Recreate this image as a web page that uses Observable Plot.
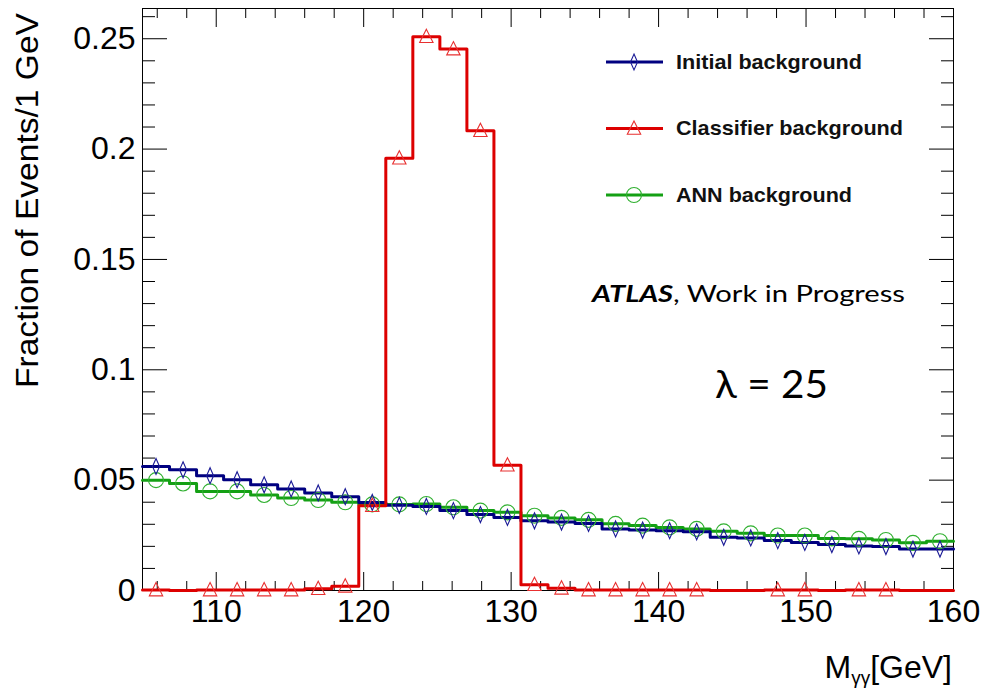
<!DOCTYPE html>
<html>
<head>
<meta charset="utf-8">
<script src="https://cdn.jsdelivr.net/npm/d3@7"></script>
<script src="https://cdn.jsdelivr.net/npm/@observablehq/plot@0.6"></script>
<style>
  html, body { margin: 0; padding: 0; background: #fff; }
  #wrap { position: relative; width: 985px; height: 691px; overflow: hidden; }
  #wrap > svg { position: absolute; left: 0; top: 0; }
  #overlay { pointer-events: none; }
</style>
</head>
<body>
<div id="wrap"></div>
<script>
// ---- data ----
const xMin = 105, xMax = 160, nBins = 30;
const binEdges = d3.range(nBins + 1).map(i => xMin + i * (xMax - xMin) / nBins);

const initialBackground = [0.0562, 0.0547, 0.0520, 0.0502, 0.0479, 0.0460, 0.0442, 0.0425, 0.0399, 0.0386,
  0.0381, 0.0362, 0.0344, 0.0331, 0.0316, 0.0310, 0.0304, 0.0279, 0.0274, 0.0271,
  0.0266, 0.0241, 0.0238, 0.0226, 0.0218, 0.0208, 0.0202, 0.0199, 0.0188, 0.0188];

const classifierBackground = [0.0002, 0, 0.0002, 0.0002, 0.0002, 0.0002, 0.0008, 0.0019, 0.0384, 0.1959,
  0.2509, 0.2453, 0.2083, 0.0568, 0.0026, 0.0010, 0.0002, 0.0002, 0.0002, 0.0002,
  0.0002, 0, 0, 0.0002, 0.0002, 0, 0.0002, 0.0002, 0, 0];

const annBackground = [0.0500, 0.0485, 0.0449, 0.0449, 0.0433, 0.0419, 0.0410, 0.0400, 0.0390, 0.0390,
  0.0392, 0.0377, 0.0362, 0.0354, 0.0339, 0.0329, 0.0320, 0.0302, 0.0294, 0.0286,
  0.0279, 0.0268, 0.0259, 0.0249, 0.0249, 0.0236, 0.0234, 0.0229, 0.0216, 0.0223];

const seriesNames = ["Initial background", "Classifier background", "ANN background"];
const xMajorTicks = [110, 120, 130, 140, 150, 160];
const xMinorTicks = [106, 108, 112, 114, 116, 118, 122, 124, 126, 128, 132, 134, 136, 138, 142, 144, 146, 148, 152, 154, 156, 158];
const yMajorTicks = [0, 0.05, 0.1, 0.15, 0.2, 0.25];
const yMinorTicks = [0.01, 0.02, 0.03, 0.04, 0.06, 0.07, 0.08, 0.09, 0.11, 0.12, 0.13, 0.14, 0.16, 0.17, 0.18, 0.19, 0.21, 0.22, 0.23, 0.24, 0.26];
const yTickLabels = ["0", "0.05", "0.1", "0.15", "0.2", "0.25"];

// ---- styles ----
const colors = {initial: "#000080", classifier: "#dd0000", ann: "#14a014"};
const markerColors = {initial: "#1a1a96", classifier: "#e83030", ann: "#30b030"};
const font = "'Liberation Sans', Arial, Helvetica, sans-serif";

// step outline points (left edge of each bin + closing right edge)
function steps(values) {
  const pts = values.map((v, i) => ({x: binEdges[i], y: v}));
  pts.push({x: binEdges[nBins], y: values[nBins - 1]});
  return pts;
}
function markers(values, keepZero) {
  return values.map((v, i) => ({x: (binEdges[i] + binEdges[i + 1]) / 2, y: v}))
    .filter(d => keepZero || d.y > 0);
}

const thinDiamond = {draw(ctx) { ctx.moveTo(0, -8); ctx.lineTo(3.5, 0); ctx.lineTo(0, 8); ctx.lineTo(-3.5, 0); ctx.closePath(); }};
const openTriangle = {draw(ctx) { ctx.moveTo(0, -7.5); ctx.lineTo(6.7, 5.8); ctx.lineTo(-6.7, 5.8); ctx.closePath(); }};

const W = 985, H = 691;
const chart = Plot.plot({
  width: W, height: H,
  marginLeft: 142, marginRight: 32, marginTop: 8, marginBottom: 101,
  style: {fontFamily: font, background: "#fff", color: "#000"},
  x: {domain: [xMin, xMax]},
  y: {domain: [0, 0.2637]},
  marks: [
    // tick labels
    Plot.axisX(xMajorTicks, {anchor: "bottom", tickSize: 0, tickPadding: 9, fontSize: 32, tickFormat: d => String(d), label: null}),
    Plot.axisY(yMajorTicks, {anchor: "left", tickSize: 0, tickPadding: 7, fontSize: 32, tickFormat: (d, i) => yTickLabels[i], label: null}),
    // inward ticks
    Plot.axisX(xMajorTicks, {anchor: "bottom", tickSize: -18, fill: "none", stroke: "#000", label: null}),
    Plot.axisX(xMinorTicks, {anchor: "bottom", tickSize: -9, fill: "none", stroke: "#000", label: null}),
    Plot.axisX(xMajorTicks, {anchor: "top", tickSize: -18, fill: "none", stroke: "#000", label: null}),
    Plot.axisX(xMinorTicks, {anchor: "top", tickSize: -9, fill: "none", stroke: "#000", label: null}),
    Plot.axisY(yMajorTicks, {anchor: "left", tickSize: -25, fill: "none", stroke: "#000", label: null}),
    Plot.axisY(yMinorTicks, {anchor: "left", tickSize: -13, fill: "none", stroke: "#000", label: null}),
    Plot.axisY(yMajorTicks, {anchor: "right", tickSize: -25, fill: "none", stroke: "#000", label: null}),
    Plot.axisY(yMinorTicks, {anchor: "right", tickSize: -13, fill: "none", stroke: "#000", label: null}),
    Plot.frame({stroke: "#000", strokeWidth: 1}),
    // histograms
    Plot.line(steps(annBackground), {x: "x", y: "y", curve: "step-after", stroke: colors.ann, strokeWidth: 3}),
    Plot.line(steps(initialBackground), {x: "x", y: "y", curve: "step-after", stroke: colors.initial, strokeWidth: 3}),
    Plot.line(steps(classifierBackground), {x: "x", y: "y", curve: "step-after", stroke: colors.classifier, strokeWidth: 3}),
    // markers
    Plot.dot(markers(annBackground, true), {x: "x", y: "y", symbol: "circle", r: 7.5, stroke: markerColors.ann, strokeWidth: 1.1, fill: "none"}),
    Plot.dot(markers(initialBackground, true), {x: "x", y: "y", symbol: thinDiamond, stroke: markerColors.initial, strokeWidth: 1.1, fill: "none"}),
    Plot.dot(markers(classifierBackground, false), {x: "x", y: "y", symbol: openTriangle, stroke: markerColors.classifier, strokeWidth: 1.1, fill: "none"})
  ]
});
document.getElementById("wrap").appendChild(chart);

// ---- overlay: legend, annotations, axis titles ----
const ns = "http://www.w3.org/2000/svg";
const ov = d3.select("#wrap").append("svg").attr("id", "overlay").attr("width", W).attr("height", H)
  .attr("xmlns", ns);

const legend = [
  {name: seriesNames[0], color: colors.initial, mcolor: markerColors.initial, sym: thinDiamond, y: 62, len: 186},
  {name: seriesNames[1], color: colors.classifier, mcolor: markerColors.classifier, sym: openTriangle, y: 128.5, len: 227},
  {name: seriesNames[2], color: colors.ann, mcolor: markerColors.ann, sym: null, y: 195, len: 176}
];
legend.forEach(d => {
  ov.append("line").attr("x1", 606).attr("x2", 663).attr("y1", d.y).attr("y2", d.y)
    .attr("stroke", d.color).attr("stroke-width", 3);
  if (d.sym) {
    const p = d3.path(); d.sym.draw(p);
    ov.append("path").attr("d", p.toString()).attr("transform", `translate(634,${d.y})`)
      .attr("fill", "none").attr("stroke", d.mcolor).attr("stroke-width", 1.1);
  } else {
    ov.append("circle").attr("cx", 634).attr("cy", d.y).attr("r", 7.5)
      .attr("fill", "none").attr("stroke", d.mcolor).attr("stroke-width", 1.1);
  }
  ov.append("text").attr("x", 676).attr("y", d.y + 6.5).attr("font-family", font)
    .attr("font-weight", "bold").attr("font-size", 21).attr("textLength", d.len)
    .attr("lengthAdjust", "spacingAndGlyphs").attr("fill", "#111").text(d.name);
});

const atlas = ov.append("text").attr("x", 592).attr("y", 302).attr("font-family", "Lato, 'Open Sans', sans-serif")
  .attr("font-size", 23).attr("textLength", 313).attr("lengthAdjust", "spacingAndGlyphs").attr("fill", "#000");
atlas.append("tspan").attr("font-weight", "bold").attr("font-style", "italic").text("ATLAS");
atlas.append("tspan").text(", Work in Progress");

ov.append("text").attr("x", 715).attr("y", 398).attr("font-family", "Lato, 'Open Sans', sans-serif")
  .attr("font-size", 39).attr("textLength", 113).attr("lengthAdjust", "spacingAndGlyphs").attr("fill", "#000")
  .text("λ = 25");

// y title (rotated)
ov.append("text").attr("transform", "translate(38,13) rotate(-90)").attr("text-anchor", "end")
  .attr("font-family", font).attr("font-size", 32).attr("fill", "#000")
  .attr("textLength", 375).attr("lengthAdjust", "spacingAndGlyphs")
  .text("Fraction of Events/1 GeV");

// x title with subscript
const xt = ov.append("text").attr("x", 952).attr("y", 678).attr("text-anchor", "end")
  .attr("font-family", font).attr("font-size", 32).attr("fill", "#000");
xt.append("tspan").text("M");
xt.append("tspan").attr("font-size", 19).attr("dy", 6).text("γγ");
xt.append("tspan").attr("dy", -6).text("[GeV]");
</script>
</body>
</html>
